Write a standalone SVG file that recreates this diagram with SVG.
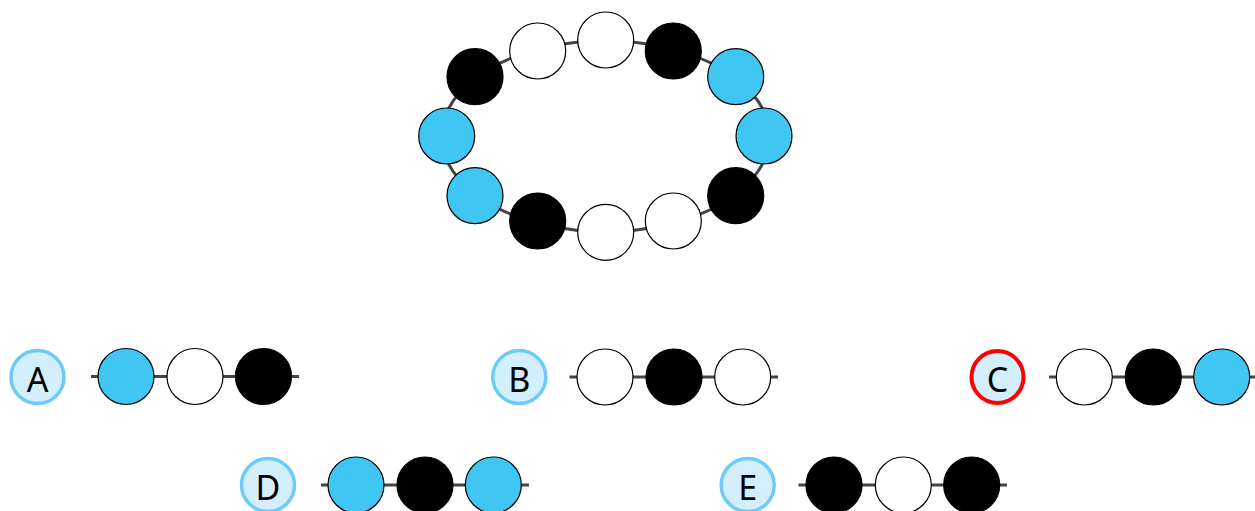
<svg xmlns="http://www.w3.org/2000/svg" width="1255" height="511" viewBox="0 0 1255 511">
<style>
.e{stroke:#444;stroke-width:3;fill:none}
.b{fill:#40c6f2;stroke:#000;stroke-width:1.2}
.w{fill:#fff;stroke:#000;stroke-width:1.2}
.k{fill:#000;stroke:#000;stroke-width:1.2}
.badge{fill:#d3eefc;stroke:#6ccbf8;stroke-width:3.5}
.badge.sel{stroke:#f00;stroke-width:4}
.t{font-family:"Noto Sans","Open Sans",sans-serif;font-size:34px;fill:#000;text-anchor:middle}
</style>
<rect width="1255" height="511" fill="#fff"/>
<g id="connectors">
<ellipse class="e" cx="605.5" cy="136.2" rx="164" ry="95.5"/>
<line class="e" x1="91" y1="376.5" x2="299" y2="376.5"/>
<line class="e" x1="569.5" y1="377" x2="778" y2="377"/>
<line class="e" x1="1049" y1="377" x2="1260" y2="377"/>
<line class="e" x1="321" y1="485" x2="529" y2="485"/>
<line class="e" x1="798.5" y1="485" x2="1007" y2="485"/>
</g>
<g id="ring">
<circle id="r1" class="w" cx="605.7" cy="40" r="28"/>
<circle id="r2" class="k" cx="673.3" cy="51" r="28"/>
<circle id="r3" class="b" cx="735.7" cy="76.7" r="28"/>
<circle id="r4" class="b" cx="764" cy="136" r="28"/>
<circle id="r5" class="k" cx="735.7" cy="195.7" r="28"/>
<circle id="r6" class="w" cx="673.3" cy="221" r="28"/>
<circle id="r7" class="w" cx="605.7" cy="232.3" r="28"/>
<circle id="r8" class="k" cx="537.7" cy="221" r="28"/>
<circle id="r9" class="b" cx="475" cy="195.7" r="28"/>
<circle id="r10" class="b" cx="446.7" cy="136" r="28"/>
<circle id="r11" class="k" cx="475" cy="76.7" r="28"/>
<circle id="r12" class="w" cx="537.7" cy="51" r="28"/>
</g>
<g id="optA">
<circle class="badge" cx="37.5" cy="377" r="26.5"/>
<text class="t" x="37.5" y="392">A</text>
<circle class="b" cx="126" cy="376.5" r="28"/>
<circle class="w" cx="195" cy="376.5" r="28"/>
<circle class="k" cx="263.5" cy="376.5" r="28"/>
</g>
<g id="optB">
<circle class="badge" cx="519.3" cy="377" r="26.5"/>
<text class="t" x="519.3" y="392">B</text>
<circle class="w" cx="605" cy="377" r="28"/>
<circle class="k" cx="674" cy="377" r="28"/>
<circle class="w" cx="742.7" cy="377" r="28"/>
</g>
<g id="optC">
<circle class="badge sel" cx="997.5" cy="377" r="26"/>
<text class="t" x="997.5" y="392">C</text>
<circle class="w" cx="1084.3" cy="377" r="28"/>
<circle class="k" cx="1153.3" cy="377" r="28"/>
<circle class="b" cx="1221.7" cy="377" r="28"/>
</g>
<g id="optD">
<circle class="badge" cx="268" cy="485" r="26.5"/>
<text class="t" x="268" y="500">D</text>
<circle class="b" cx="356" cy="485" r="28"/>
<circle class="k" cx="425" cy="485" r="28"/>
<circle class="b" cx="493.3" cy="485" r="28"/>
</g>
<g id="optE">
<circle class="badge" cx="747.7" cy="485" r="26.5"/>
<text class="t" x="747.7" y="500">E</text>
<circle class="k" cx="834" cy="485" r="28"/>
<circle class="w" cx="903.3" cy="485" r="28"/>
<circle class="k" cx="971.7" cy="485" r="28"/>
</g>
</svg>
